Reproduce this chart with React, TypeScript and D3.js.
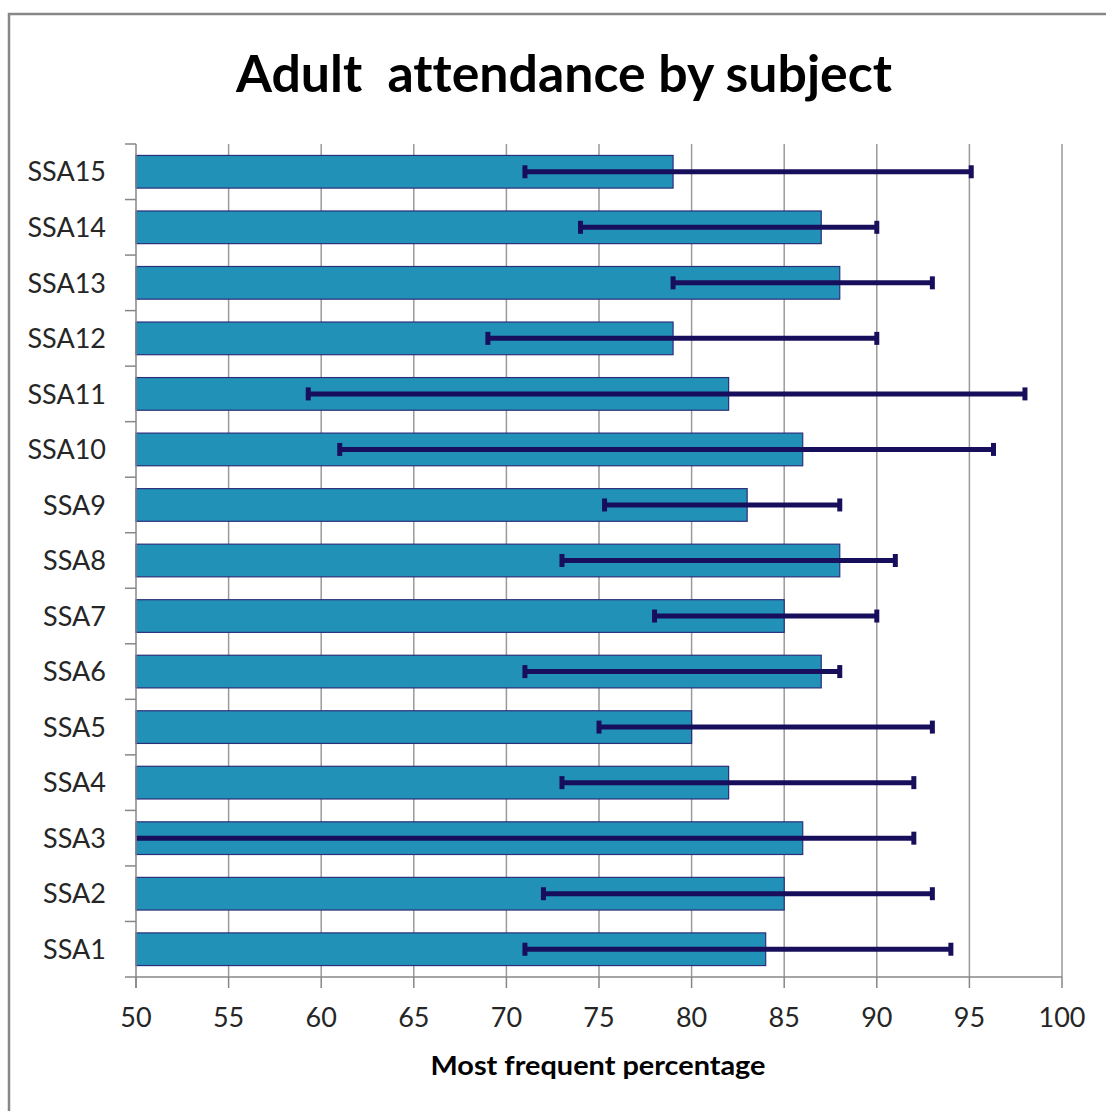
import React, { useEffect, useRef } from 'react';
import * as d3 from 'd3';

// subjects, top row first as in the picture
const subjects: string[] = ['SSA15', 'SSA14', 'SSA13', 'SSA12', 'SSA11', 'SSA10', 'SSA9', 'SSA8', 'SSA7', 'SSA6', 'SSA5', 'SSA4', 'SSA3', 'SSA2', 'SSA1'];
// most frequent percentage (bar ends)
const modeValues: number[] = [79, 87, 88, 79, 82, 86, 83, 88, 85, 87, 80, 82, 86, 85, 84];
// error bar extents, low and high
const lowValues: number[] = [71, 74, 79, 69, 59.3, 61, 75.3, 73, 78, 71, 75, 73, 45, 72, 71];
const highValues: number[] = [95.1, 90, 93, 90, 98, 96.3, 88, 91, 90, 88, 93, 92, 92, 93, 94];
const xTicks: number[] = [50, 55, 60, 65, 70, 75, 80, 85, 90, 95, 100];

const W = 1106;
const H = 1111;
const FONT = 'Lato, "Open Sans", sans-serif';

export default function App() {
  const ref = useRef<SVGSVGElement>(null);

  useEffect(() => {
    const svg = d3.select(ref.current);
    svg.selectAll('*').remove();

    const left = 136, right = 1062, top = 144, bottom = 977;

    const x = d3.scaleLinear().domain([50, 100]).range([left, right]);
    const y = d3.scaleBand<string>()
      .domain(subjects)
      .range([top, bottom])
      .paddingInner(0.7 / 1.7)
      .paddingOuter(0.35 / 1.7);
    const step = y.step();

    const rows = subjects.map((s, i) => ({ name: s, mode: modeValues[i], low: lowValues[i], high: highValues[i] }));

    // outer frame
    svg.append('rect')
      .attr('x', 9).attr('y', 14)
      .attr('width', W + 20).attr('height', H + 20)
      .attr('fill', 'white')
      .attr('stroke', '#878787')
      .attr('stroke-width', 2.5);

    svg.append('defs').append('clipPath').attr('id', 'plot')
      .append('rect').attr('x', left).attr('y', top).attr('width', right - left).attr('height', bottom - top);

    // gridlines
    svg.append('g').selectAll('line')
      .data(xTicks.filter(t => t > 50))
      .join('line')
      .attr('x1', d => x(d)).attr('x2', d => x(d))
      .attr('y1', top).attr('y2', bottom)
      .attr('stroke', '#9a9a9a')
      .attr('stroke-width', 1.5);

    // bars
    svg.append('g').selectAll('rect')
      .data(rows)
      .join('rect')
      .attr('x', x(50))
      .attr('y', d => y(d.name)!)
      .attr('width', d => x(d.mode) - x(50))
      .attr('height', y.bandwidth())
      .attr('fill', '#2191b7')
      .attr('stroke', '#2b2f7a')
      .attr('stroke-width', 1.2);

    // error bars
    const eb = svg.append('g').attr('clip-path', 'url(#plot)');
    const mid = (d: any) => y(d.name)! + y.bandwidth() / 2;
    eb.selectAll('line.eb')
      .data(rows)
      .join('line')
      .attr('class', 'eb')
      .attr('x1', d => x(d.low)).attr('x2', d => x(d.high))
      .attr('y1', mid).attr('y2', mid)
      .attr('stroke', '#180f5c')
      .attr('stroke-width', 5);
    const caps = rows.flatMap(d => [{ v: d.low, d }, { v: d.high, d }]).filter(c => c.v >= 50);
    eb.selectAll('line.cap')
      .data(caps)
      .join('line')
      .attr('class', 'cap')
      .attr('x1', c => x(c.v)).attr('x2', c => x(c.v))
      .attr('y1', c => mid(c.d) - 6.5).attr('y2', c => mid(c.d) + 6.5)
      .attr('stroke', '#180f5c')
      .attr('stroke-width', 5);

    // axes lines
    const axisColor = '#878787';
    svg.append('line')
      .attr('x1', left).attr('x2', left).attr('y1', top).attr('y2', bottom + 11)
      .attr('stroke', axisColor).attr('stroke-width', 1.5);
    svg.append('line')
      .attr('x1', left - 11).attr('x2', right).attr('y1', bottom).attr('y2', bottom)
      .attr('stroke', axisColor).attr('stroke-width', 1.5);

    // category ticks at band boundaries
    svg.append('g').selectAll('line')
      .data(d3.range(subjects.length))
      .join('line')
      .attr('x1', left - 11).attr('x2', left)
      .attr('y1', i => top + i * step).attr('y2', i => top + i * step)
      .attr('stroke', axisColor).attr('stroke-width', 1.5);

    // value ticks
    svg.append('g').selectAll('line')
      .data(xTicks)
      .join('line')
      .attr('x1', d => x(d)).attr('x2', d => x(d))
      .attr('y1', bottom).attr('y2', bottom + 11)
      .attr('stroke', axisColor).attr('stroke-width', 1.5);

    // category labels
    svg.append('g').selectAll('text')
      .data(subjects)
      .join('text')
      .attr('x', 106)
      .attr('y', d => y(d)! + y.bandwidth() / 2)
      .attr('dy', '0.36em')
      .attr('text-anchor', 'end')
      .attr('font-family', FONT)
      .attr('font-size', 27)
      .attr('fill', '#262626')
      .text(d => d);

    // value labels
    svg.append('g').selectAll('text')
      .data(xTicks)
      .join('text')
      .attr('x', d => x(d))
      .attr('y', 1027)
      .attr('text-anchor', 'middle')
      .attr('font-family', FONT)
      .attr('font-size', 27)
      .attr('fill', '#262626')
      .text(d => d);

    // titles
    svg.append('text')
      .attr('x', 564).attr('y', 92)
      .attr('text-anchor', 'middle')
      .attr('font-family', FONT)
      .attr('font-weight', 'bold')
      .attr('font-size', 51)
      .attr('textLength', 656)
      .attr('lengthAdjust', 'spacingAndGlyphs')
      .style('white-space', 'pre')
      .style('font-variant-ligatures', 'none')
      .attr('fill', '#000')
      .text('Adult  attendance by subject');

    svg.append('text')
      .attr('x', 598).attr('y', 1075)
      .attr('text-anchor', 'middle')
      .attr('font-family', FONT)
      .attr('font-weight', 'bold')
      .attr('font-size', 27)
      .attr('textLength', 335)
      .attr('lengthAdjust', 'spacingAndGlyphs')
      .style('font-variant-ligatures', 'none')
      .attr('fill', '#000')
      .text('Most frequent percentage');
  }, []);

  return (
    <svg ref={ref} width={W} height={H} style={{ position: 'absolute', left: 0, top: 0, background: 'white' }} />
  );
}
